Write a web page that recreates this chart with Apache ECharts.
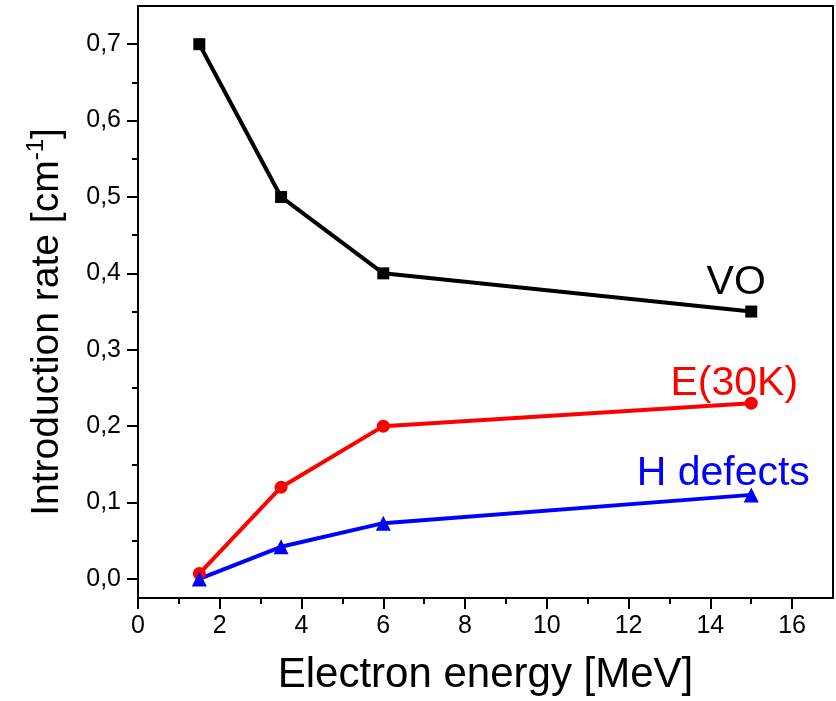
<!DOCTYPE html>
<html>
<head>
<meta charset="utf-8">
<script src="https://cdn.jsdelivr.net/npm/echarts@6/dist/echarts.min.js"></script>
<style>html,body{margin:0;padding:0;background:#fff;}#c{width:836px;height:701px;}</style>
</head>
<body>
<div id="c"></div>
<script>
// ---- data ----
var energy = [1.5, 3.5, 6, 15];
var voRate = [0.70, 0.50, 0.40, 0.35];
var e30kRate = [0.007, 0.12, 0.20, 0.23];
var hDefectRate = [0.0, 0.042, 0.073, 0.11];
var seriesNames = ['VO', 'E(30K)', 'H defects'];
var xMajorTicks = [0, 2, 4, 6, 8, 10, 12, 14, 16];
var xMinorTicks = [1, 3, 5, 7, 9, 11, 13, 15];
var yMajorTicks = [0, 0.1, 0.2, 0.3, 0.4, 0.5, 0.6, 0.7];
var yMinorTicks = [0.05, 0.15, 0.25, 0.35, 0.45, 0.55, 0.65];
var xTitle = 'Electron energy [MeV]';
var yTitleMain = 'Introduction rate [cm';
var yTitleSup = '-1';
var yTitleEnd = ']';

var FONT = "'Liberation Sans', Arial, sans-serif";
var chart = echarts.init(document.getElementById('c'), null, {renderer: 'canvas'});

function build(xs, ys, labelCfg) {
  return xs.map(function (x, i) {
    var item = {value: [x, ys[i]]};
    if (i === xs.length - 1) item.label = labelCfg;
    return item;
  });
}

function lbl(color, offset) {
  return {
    show: true, position: 'top', distance: 0, offset: offset,
    formatter: '{a}', color: color, fontSize: 41, fontFamily: FONT
  };
}

var colors = ['#000000', '#ff0000', '#0000ff'];
var symbols = ['rect', 'circle', 'triangle'];
var sizes = [12, 13, 15];
var values = [voRate, e30kRate, hDefectRate];
var offsets = [[-15, -2], [-17, 7], [-28, 7]];

var series = values.map(function (v, k) {
  return {
    name: seriesNames[k], type: 'line', xAxisIndex: 0, yAxisIndex: 0,
    data: build(energy, v, lbl(colors[k], offsets[k])),
    symbol: symbols[k], symbolSize: sizes[k], showSymbol: true,
    lineStyle: {color: colors[k], width: 4},
    itemStyle: {color: colors[k]},
    z: 3, animation: false
  };
});

var axisLineStyle = {show: true, onZero: false, lineStyle: {color: '#000', width: 2}};

chart.setOption({
  animation: false,
  backgroundColor: '#fff',
  grid: {left: 138, top: 6, right: 3, bottom: 101, show: true, borderColor: '#000', borderWidth: 2, containLabel: false},
  xAxis: [{
    type: 'value', min: 0, max: 17, position: 'bottom',
    axisLine: axisLineStyle,
    axisTick: {show: true, inside: false, length: 11, lineStyle: {color: '#000', width: 2}, customValues: xMajorTicks},
    axisLabel: {show: true, margin: 16, fontSize: 25, color: '#000', fontFamily: FONT, customValues: xMajorTicks},
    splitLine: {show: false},
    name: xTitle, nameLocation: 'middle', nameGap: 56,
    nameTextStyle: {fontSize: 42, color: '#000', fontFamily: FONT}
  }, {
    type: 'value', min: 0, max: 17, position: 'bottom',
    axisLine: {show: false, onZero: false},
    axisTick: {show: true, inside: false, length: 6, lineStyle: {color: '#000', width: 2}, customValues: xMinorTicks},
    axisLabel: {show: false},
    splitLine: {show: false}
  }],
  yAxis: [{
    type: 'value', min: -0.025, max: 0.75, position: 'left',
    axisLine: axisLineStyle,
    axisTick: {show: true, inside: false, length: 11, lineStyle: {color: '#000', width: 2}, customValues: yMajorTicks},
    axisLabel: {show: true, margin: 17, fontSize: 25, color: '#000', fontFamily: FONT, customValues: yMajorTicks,
      formatter: function (v) { return v.toFixed(1).replace('.', ','); }},
    splitLine: {show: false}
  }, {
    type: 'value', min: -0.025, max: 0.75, position: 'left',
    axisLine: {show: false, onZero: false},
    axisTick: {show: true, inside: false, length: 6, lineStyle: {color: '#000', width: 2}, customValues: yMinorTicks},
    axisLabel: {show: false},
    splitLine: {show: false}
  }],
  graphic: [{
    type: 'text', x: 47, y: 322, rotation: Math.PI / 2, silent: true,
    style: {
      text: '{a|' + yTitleMain + '}{s|' + yTitleSup + '}{a|' + yTitleEnd + '}',
      fontSize: 39, fontFamily: FONT,
      align: 'center', verticalAlign: 'middle', fill: '#000',
      rich: {
        a: {fontSize: 39, fontFamily: FONT, fill: '#000'},
        s: {fontSize: 24, fontFamily: FONT, fill: '#000', padding: [0, 0, 22, 0]}
      }
    }
  }],
  series: series
});
</script>
</body>
</html>
